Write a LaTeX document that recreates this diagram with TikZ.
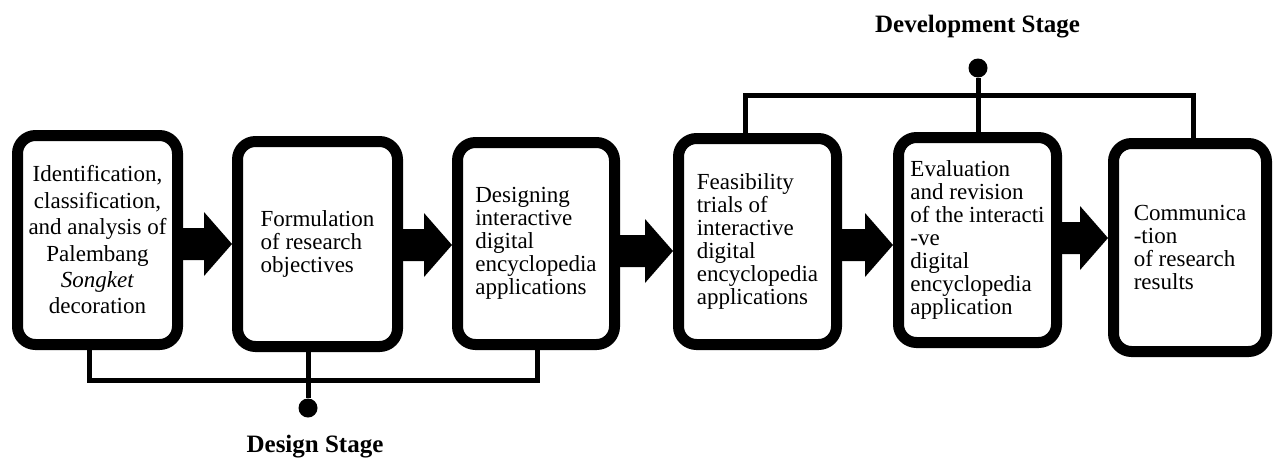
\documentclass[tikz,border=0pt]{standalone}
\usepackage{fontspec}
\setmainfont{Liberation Serif}
\usetikzlibrary{calc}

% thick block arrow from the east side of #1 to the west side of #2,
% shifted vertically by #3 from the centre of #1
\newcommand\blockarrow[3]{%
  \coordinate (arrS) at ($(#1.east)+(0,#3)$);
  \coordinate (arrT) at (#2.west |- arrS);
  \fill ($(arrS)+(0,-16)$) -- ($(arrT)+(-28,-16)$) -- ($(arrT)+(-28,-32)$)
     -- (arrT) -- ($(arrT)+(-28,32)$) -- ($(arrT)+(-28,16)$)
     -- ($(arrS)+(0,16)$) -- cycle;}

\begin{document}
\begin{tikzpicture}[x=1pt,y=-1pt,
  box/.style={draw, fill=white, line width=11pt, rounded corners=18pt,
    inner sep=0pt, align=left, font=\fontsize{23}{23}\selectfont},
  stageline/.style={line width=5pt},
  stagedot/.style={circle, fill, inner sep=0pt, minimum size=19pt},
  stagelabel/.style={font=\bfseries\fontsize{25}{25}\selectfont, inner sep=0pt}]
\useasboundingbox (0,0) rectangle (1276,459);

% process boxes
\node[box, align=center, font=\fontsize{23}{26.4}\selectfont,
      minimum width=160pt, minimum height=209pt] (b1) at (97.5,240)
  {Identification,\\classification,\\and analysis of\\Palembang\\\textit{Songket}\\decoration};
\node[box, minimum width=160pt, minimum height=205pt] (b2) at (317.5,244)
  {Formulation\\of research\\objectives};
\node[box, minimum width=157pt, minimum height=202pt] (b3) at (536,243.5)
  {Designing\\interactive\\digital\\encyclopedia\\applications};
\node[box, minimum width=158pt, minimum height=206pt] (b4) at (757.5,241.5)
  {Feasibility\\trials of\\interactive\\digital\\encyclopedia\\applications};
\node[box, minimum width=158pt, minimum height=205pt] (b5) at (977.5,240)
  {Evaluation\\and revision\\of the interacti\\-ve\\digital\\encyclopedia\\application};
\node[box, minimum width=153pt, minimum height=208pt] (b6) at (1190,247.5)
  {Communica\\-tion\\of research\\results};

% flow arrows
\blockarrow{b1}{b2}{4}
\blockarrow{b2}{b3}{1}
\blockarrow{b3}{b4}{7.5}
\blockarrow{b4}{b5}{3.5}
\blockarrow{b5}{b6}{-2}

% design stage bracket
\coordinate (dbar) at (308,380);
\node[stagedot] (ddot) at (308,408) {};
\draw[stageline] ([xshift=-8.5pt]b1.south) |- (dbar) -| ([xshift=1pt]b3.south);
\draw[stageline] (b2.south -| ddot) -- (ddot);
\node[stagelabel, anchor=base] (dlab) at (315,452) {Design Stage};

% development stage bracket
\coordinate (vbar) at (978,95);
\node[stagedot] (vdot) at (978,68) {};
\draw[stageline] ([xshift=-12.5pt]b4.north) |- (vbar) -| ([xshift=3pt]b6.north);
\draw[stageline] (b5.north -| vdot) -- (vdot);
\node[stagelabel, anchor=base] (vlab) at (977.5,32) {Development Stage};
\end{tikzpicture}
\end{document}
